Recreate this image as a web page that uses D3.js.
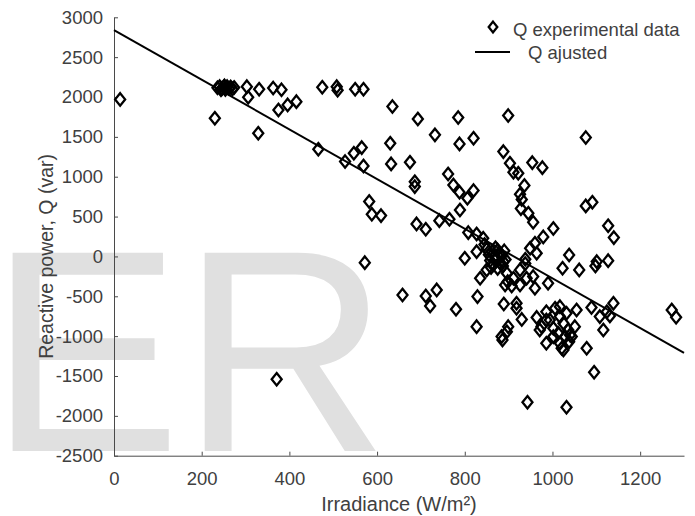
<!DOCTYPE html>
<html>
<head>
<meta charset="utf-8">
<script src="https://cdn.jsdelivr.net/npm/d3@7"></script>
<style>
  html, body { margin: 0; padding: 0; background: #ffffff; }
  svg { display: block; }
  text { font-family: "Liberation Sans", Arial, Helvetica, sans-serif; }
</style>
</head>
<body>
<svg id="chart" width="695" height="516"></svg>
<script>
// Measured irradiance (W/m²) and reactive power (var)
const irradiance = [
  14, 230, 236, 241, 246, 250, 254, 258, 262, 266, 270, 274, 252, 244,
  303, 306, 329, 331, 363, 382, 375, 396, 416, 475, 508, 510, 466, 527,
  550, 569, 547, 565, 569, 635, 630, 632, 675, 693, 732, 686, 686, 762,
  774, 785, 788, 820, 788, 820, 806, 789, 888, 899, 903, 911, 922, 954,
  977, 936, 926, 930, 928, 945, 956, 1076, 1076, 1091, 1127, 1140, 1002, 979,
  960, 949, 964, 938, 1038, 1023, 1061, 1101, 1127, 1098, 582, 588, 609, 690,
  711, 742, 765, 808, 827, 842, 572, 800, 827,
  845, 850, 855, 858, 862, 865, 868, 870, 872, 875, 878, 880, 884, 887, 890, 893, 860, 875,
  835, 850, 896, 911, 926, 941, 956, 960, 990, 892, 907, 926, 658, 711,
  736, 721, 780, 829, 889, 918, 918, 930, 827, 884, 899, 896,
  964, 971, 975, 986, 986, 994, 1002, 1006, 1017, 1017, 1025, 1032, 1036, 1044,
  1051, 1055, 986, 1002, 1013, 1017, 1021, 1029, 1040, 1038, 1025, 1078,
  1089, 1108, 1124, 1139, 1131, 1116, 1095, 943, 1032, 371, 1272, 1282, 886,
  888, 898, 938
];
const reactivePower = [
  1970, 1734, 2115, 2130, 2105, 2125, 2095, 2130, 2110, 2125, 2100, 2120, 2140, 2090,
  2130, 1997, 1546, 2098, 2112, 2090, 1838, 1901, 1942, 2123, 2130, 2085, 1345, 1190,
  2098, 2098, 1295, 1365, 1135, 1880, 1420, 1161, 1182, 1725, 1525, 938, 876, 1035,
  897, 1742, 1412, 1483, 805, 826, 730, 583, 1315, 1767, 1169, 1056, 1044, 1177,
  1114, 890, 780, 715, 600, 542, 430, 1491, 634, 680, 386, 236, 350, 245,
  166, 103, 40, -35, 19, -148, -169, -65, -53, -119, 690, 529, 512, 408,
  341, 449, 467, 299, 282, 228, -78, -23, 60,
  150, 90, 20, -50, 60, -100, 0, 110, -30, -150, 40, -80, 10, -120, 70, -40, -140, 80,
  -274, -169, -211, -274, -169, -274, -253, -399, -336, -358, -370, -358, -483, -496,
  -420, -621, -662, -504, -596, -587, -650, -790, -881, -1006, -881, -944,
  -765, -922, -880, -797, -693, -797, -901, -650, -755, -630, -838, -713, -922, -1006,
  -881, -671, -1089, -1006, -964, -1089, -1152, -1006, -985, -1069, -1173, -1152,
  -640, -755, -693, -587, -746, -922, -1453, -1829, -1892, -1541, -671, -763, -1048,
  -65, -316, -90
];

// Fitted straight line, given at the two ends of the irradiance range
const fitIrradiance = [0, 1300];
const fitReactive = [2840, -1210];

const xTicks = [0, 200, 400, 600, 800, 1000, 1200];
const yTicks = [-2500, -2000, -1500, -1000, -500, 0, 500, 1000, 1500, 2000, 2500, 3000];

const legendLabels = ["Q experimental data", "Q ajusted"];
const xLabel = "Irradiance (W/m²)";
const yLabel = "Reactive power, Q (var)";
const watermark = "ER";

const svg = d3.select("#chart");
const plotLeft = 114, plotRight = 684, plotTop = 17.3, plotBottom = 455.7;

const x = d3.scaleLinear().domain([0, 1300]).range([plotLeft, plotRight]);
const y = d3.scaleLinear().domain([-2500, 3000]).range([plotBottom, plotTop]);

const textColor = "#404040";
const axisColor = "#4a4a4a";

// Plain integer labels with an ASCII hyphen for negatives
const plainInt = d => String(d);

// Large pale lettering behind the plot
svg.append("text")
  .attr("x", -11)
  .attr("y", 451)
  .attr("font-size", 288)
  .attr("fill", "#e0e0e0")
  .text(watermark);

// Axes: left and bottom only, ticks pointing inward
const xAxis = d3.axisBottom(x).tickValues(xTicks).tickSizeInner(-4).tickSizeOuter(0).tickPadding(12).tickFormat(plainInt);
const yAxis = d3.axisLeft(y).tickValues(yTicks).tickSizeInner(-4).tickSizeOuter(0).tickPadding(11).tickFormat(plainInt);

const gx = svg.append("g").attr("transform", `translate(0,${plotBottom})`).call(xAxis);
const gy = svg.append("g").attr("transform", `translate(${plotLeft},0)`).call(yAxis);

[gx, gy].forEach(g => {
  g.select(".domain").attr("stroke", axisColor).attr("stroke-width", 1);
  g.selectAll(".tick line").attr("stroke", axisColor).attr("stroke-width", 1);
  g.selectAll(".tick text")
    .attr("fill", textColor)
    .attr("font-size", 18.5)
    .attr("font-family", "Liberation Sans, Arial, sans-serif");
});
gx.selectAll(".tick text").attr("dy", "0.93em");

// Axis titles
svg.append("text")
  .attr("x", (plotLeft + plotRight) / 2)
  .attr("y", 511)
  .attr("text-anchor", "middle")
  .attr("font-size", 20)
  .attr("fill", textColor)
  .text(xLabel);

svg.append("text")
  .attr("transform", `translate(53,${y(0)}) rotate(-90)`)
  .attr("text-anchor", "middle")
  .attr("font-size", 19.5)
  .attr("fill", textColor)
  .text(yLabel);

// Diamond marker path (a little taller than wide)
const diamond = (hw, hh) => `M0,${-hh}L${hw},0L0,${hh}L${-hw},0Z`;

// Fitted line
const line = d3.line().x(d => x(d[0])).y(d => y(d[1]));
svg.append("path")
  .datum(d3.zip(fitIrradiance, fitReactive))
  .attr("d", line)
  .attr("fill", "none")
  .attr("stroke", "#000")
  .attr("stroke-width", 2);

// Experimental points
svg.append("g")
  .selectAll("path")
  .data(d3.zip(irradiance, reactivePower))
  .join("path")
  .attr("transform", d => `translate(${x(d[0])},${y(d[1])})`)
  .attr("d", diamond(5, 6.2))
  .attr("fill", "none")
  .attr("stroke", "#000")
  .attr("stroke-width", 2.3);

// Legend
const lg = svg.append("g");
lg.append("path")
  .attr("transform", "translate(493,27)")
  .attr("d", diamond(4.3, 5.4))
  .attr("fill", "none")
  .attr("stroke", "#000")
  .attr("stroke-width", 2.3);
lg.append("text")
  .attr("x", 513).attr("y", 36)
  .attr("font-size", 18.5)
  .attr("fill", textColor)
  .text(legendLabels[0]);
lg.append("line")
  .attr("x1", 475).attr("x2", 510)
  .attr("y1", 52).attr("y2", 52)
  .attr("stroke", "#000")
  .attr("stroke-width", 2);
lg.append("text")
  .attr("x", 528).attr("y", 59)
  .attr("font-size", 18.5)
  .attr("fill", textColor)
  .text(legendLabels[1]);
</script>
</body>
</html>
